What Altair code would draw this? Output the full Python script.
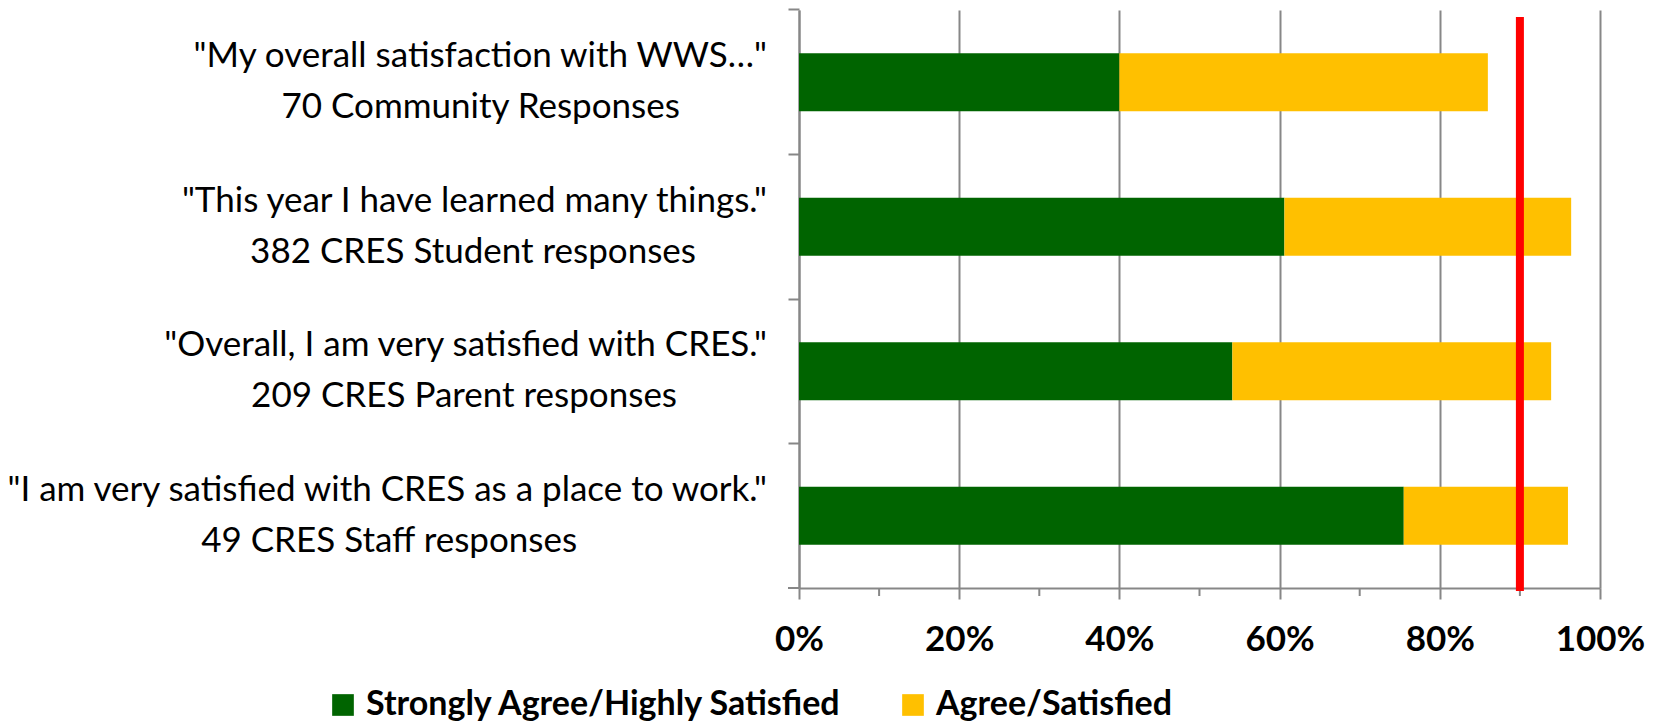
import altair as alt
import pandas as pd

# ---- data ----
questions = [
    '"My overall satisfaction with WWS\u2026"',
    '"This year I have learned many things."',
    '"Overall, I am very satisfied with CRES."',
    '"I am very satisfied with CRES as a place to work."',
]
groups = [
    "70 Community Responses",
    "382 CRES Student responses",
    "209 CRES Parent responses",
    "49 CRES Staff responses",
]
strongly = [40.0, 60.6, 54.1, 75.5]
agree = [46.0, 35.8, 39.8, 20.5]
series = ["Strongly Agree/Highly Satisfied", "Agree/Satisfied"]
colors = ["#006400", "#FFC000"]
target = [90]
major_ticks = [0, 20, 40, 60, 80, 100]
minor_ticks = [10, 30, 50, 70, 90]

W, H = 801, 578
GRAY = "#878787"
FONT = "Lato"
LABEL_SIZE = 35
LABEL_RIGHT = -32  # gap between label block and plot

# approximate advance widths (em) of the label font, used to centre the
# second line of every label under its first line
_adv = {
    " ": .193, '"': .35, "'": .2, ",": .2, ".": .2, "\u2026": .7,
    "a": .47, "b": .53, "c": .44, "d": .53, "e": .50, "f": .31, "g": .47,
    "h": .53, "i": .23, "j": .23, "k": .48, "l": .23, "m": .80, "n": .53,
    "o": .53, "p": .53, "q": .53, "r": .35, "s": .40, "t": .33, "u": .53,
    "v": .48, "w": .74, "x": .47, "y": .48, "z": .43,
    "A": .66, "B": .62, "C": .65, "D": .73, "E": .53, "F": .51, "G": .71,
    "H": .74, "I": .27, "J": .38, "K": .64, "L": .48, "M": .88, "N": .74,
    "O": .78, "P": .58, "Q": .78, "R": .61, "S": .51, "T": .55, "U": .71,
    "V": .66, "W": .98, "X": .63, "Y": .60, "Z": .59,
}


def text_width(s, size):
    return sum(_adv.get(ch, .58) for ch in s) * size * 1.07


rows = []
for q, s, a in zip(questions, strongly, agree):
    rows.append({"q": q, "series": series[0], "value": s, "k": 0})
    rows.append({"q": q, "series": series[1], "value": a, "k": 1})
bars_df = pd.DataFrame(rows)
labels_df = pd.DataFrame({
    "q": questions,
    "g": groups,
    "cx": [LABEL_RIGHT - text_width(q, LABEL_SIZE) / 2 for q in questions],
})

xscale = alt.Scale(domain=[0, 100], nice=False)
yscale = alt.Scale(paddingInner=0.6, paddingOuter=0.3)

x_axis = alt.Axis(
    values=major_ticks, labelExpr="datum.value + '%'", title=None,
    grid=True, gridColor=GRAY, gridWidth=2,
    domainColor=GRAY, domainWidth=2,
    tickColor=GRAY, tickWidth=2, tickSize=11,
    labelFont=FONT, labelFontSize=35, labelFontWeight="bold",
    labelColor="black", labelPadding=23, labelFlush=False,
)
y_axis = alt.Axis(
    labels=False, title=None, bandPosition=-0.75, tickSize=11,
    tickColor=GRAY, tickWidth=2, domainColor=GRAY, domainWidth=2,
    grid=False,
)

bars = alt.Chart(bars_df).mark_bar().encode(
    x=alt.X("value:Q", stack="zero", scale=xscale, axis=x_axis),
    y=alt.Y("q:N", sort=questions, scale=yscale, axis=y_axis),
    color=alt.Color(
        "series:N", scale=alt.Scale(domain=series, range=colors),
        legend=alt.Legend(
            title=None, orient="none", legendX=-473, legendY=678,
            direction="horizontal", symbolType="square", symbolSize=470,
            symbolStrokeWidth=0, symbolOpacity=1,
            labelFont=FONT, labelFontSize=34, labelFontWeight="bold",
            labelColor="black", labelOffset=6, columnPadding=53,
            labelLimit=1000,
        ),
    ),
    order=alt.Order("k:Q"),
)

minor = alt.Chart(pd.DataFrame({"v": minor_ticks})).mark_rule(
    color=GRAY, strokeWidth=2
).encode(
    x=alt.X("v:Q", scale=xscale, axis=x_axis),
    y=alt.value(H),
    y2=alt.value(H + 8),
)

corner_tick = alt.Chart(pd.DataFrame({"v": [0]})).mark_rule(
    color=GRAY, strokeWidth=2
).encode(
    x=alt.value(-11),
    x2=alt.value(0),
    y=alt.value(H),
)

red = alt.Chart(pd.DataFrame({"v": target})).mark_rule(
    color="#FF0000", strokeWidth=8
).encode(
    x=alt.X("v:Q", scale=xscale, axis=x_axis),
    y=alt.value(7),
    y2=alt.value(H + 3),
)

line1 = alt.Chart(labels_df).mark_text(
    align="right", baseline="middle", font=FONT, fontSize=LABEL_SIZE,
    color="black", dy=-26,
).encode(
    x=alt.value(LABEL_RIGHT),
    y=alt.Y("q:N", sort=questions, scale=yscale, axis=y_axis),
    text="q:N",
)

line2 = alt.Chart(labels_df).mark_text(
    align="center", baseline="middle", font=FONT, fontSize=LABEL_SIZE,
    color="black", dy=25,
).encode(
    x=alt.X("cx:Q", scale=None),
    y=alt.Y("q:N", sort=questions, scale=yscale, axis=y_axis),
    text="g:N",
)

chart = alt.layer(bars, minor, corner_tick, red, line1, line2).properties(
    width=W, height=H,
    padding={"left": 791, "top": 2, "right": 50, "bottom": 134},
    autosize=alt.AutoSizeParams(type="none"),
).configure_view(stroke=None)

chart.save("out.html", embed_options={"renderer": "svg", "actions": False})
